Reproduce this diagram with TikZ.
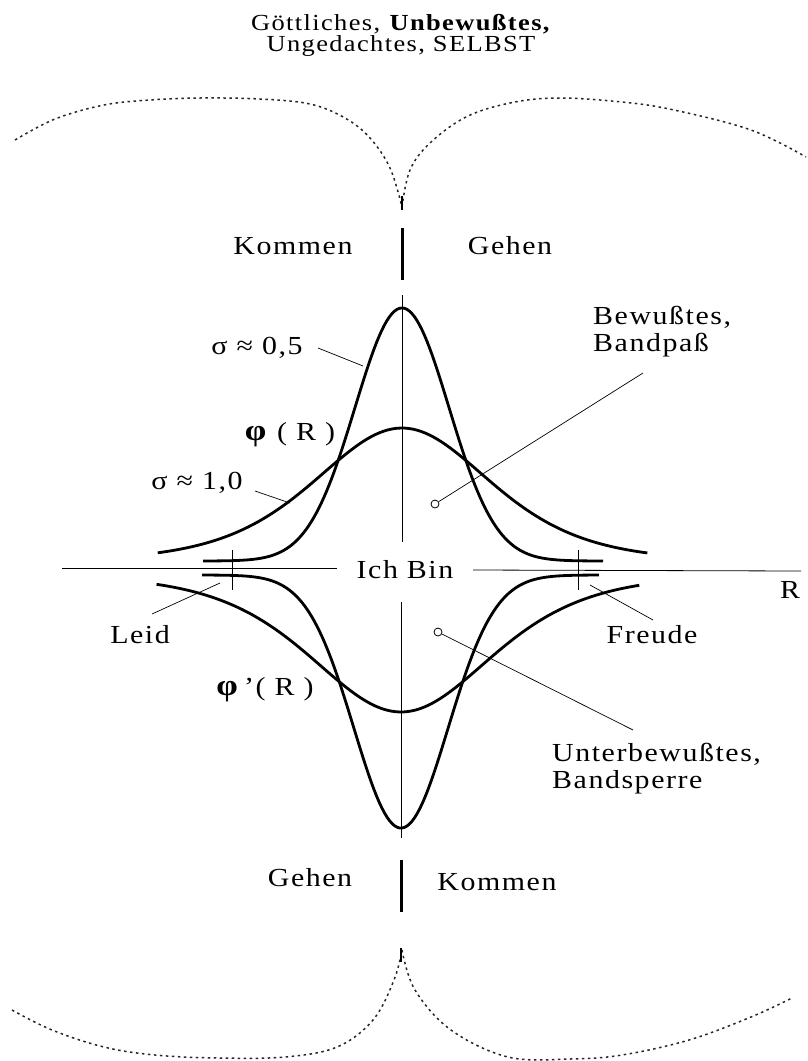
\documentclass[tikz,border=0pt]{standalone}
\usepackage{fontspec}
\setmainfont{Liberation Serif}[FakeStretch=1.15, LetterSpace=6]
\begin{document}
\begin{tikzpicture}[x=1pt,y=-1pt,
  lab/.style={inner sep=0pt, font=\fontsize{26}{23}\selectfont},
  twolab/.style={inner sep=0pt, anchor=west, align=left, font=\fontsize{26}{27}\selectfont},
  toplab/.style={inner sep=0pt, align=center, font=\fontsize{23}{21}\selectfont},
  curve/.style={line width=2.8pt, line join=round},
  thin/.style={line width=0.8pt},
  bar/.style={line width=3pt},
  leader/.style={line width=0.7pt},
  outerarc/.style={line width=1.5pt, dash pattern=on 2.5pt off 3.5pt, black!85},
  ring/.style={circle, draw, line width=0.8pt, inner sep=0pt, minimum size=8pt}]
\useasboundingbox (0,0) rectangle (808,1061);
% title
\node[toplab] (title) at (401,35) {Göttliches, \textbf{Unbewußtes,}\\Ungedachtes, SELBST};
% outer dashed arcs
\draw[outerarc] plot[smooth, tension=0.6] coordinates {(15,140) (55,119) (104,105) (150,100) (200,98) (260,99) (310,104) (345,118) (370,138) (390,168) (402,207)};
\draw[outerarc] plot[smooth, tension=0.6] coordinates {(402,207) (410,170) (430,143) (466,117) (510,103) (557,98) (622,102) (674,110) (751,130) (806,157)};
\draw[outerarc] plot[smooth, tension=0.6] coordinates {(12,1010) (52,1030) (104,1047) (155,1055) (218,1058) (285,1057) (337,1047) (373,1020) (394,980) (402,950)};
\draw[outerarc] plot[smooth, tension=0.6] coordinates {(402,950) (415,990) (451,1030) (508,1057) (570,1059) (622,1055) (689,1040) (751,1017) (792,998)};
\draw[line width=1.3pt] (402,196) -- (402,210);
\draw[line width=1.3pt] (401,948) -- (401,962);
% bars and labels
\coordinate (barTa) at (402,228); \coordinate (barTb) at (402,280);
\draw[bar] (barTa) -- (barTb);
\node[lab] (kommenT) at (293,246) {Kommen};
\node[lab] (gehenT) at (510,246) {Gehen};
\coordinate (barBa) at (401,860); \coordinate (barBb) at (401,912);
\draw[bar] (barBa) -- (barBb);
\node[lab] (gehenB) at (310,878) {Gehen};
\node[lab] (kommenB) at (497,882) {Kommen};
% axes
\node[lab] (ich) at (405,570) {Ich Bin};
\coordinate (axL) at (62,568); \coordinate (axLe) at (337,568);
\coordinate (axRs) at (473,570); \coordinate (axR) at (801,571);
\draw[thin] (axL) -- (axLe);
\draw[thin] (axRs) -- (axR);
\node[lab] (R) at (790,590) {R};
\coordinate (vUa) at (402,295); \coordinate (vUb) at (402,542);
\coordinate (vLa) at (401,602); \coordinate (vLb) at (401,838);
\draw[thin] (vUa) -- (vUb);
\draw[thin] (vLa) -- (vLb);
\coordinate (tkLa) at (232,550); \coordinate (tkLb) at (232,590);
\coordinate (tkRa) at (578,550); \coordinate (tkRb) at (578,590);
\draw[line width=1pt] (tkLa) -- (tkLb);
\draw[line width=1pt] (tkRa) -- (tkRb);
% curves
\draw[curve] plot[domain=-4.23:4.28, samples=160] ({402+47*\x}, {561-253*exp(-(\x*\x)/2)});
\draw[curve] plot[domain=-2.07:2.08, samples=120] ({402+118*\x}, {561-133/(cosh(\x)*cosh(\x))});
\draw[curve] plot[domain=-4.23:4.21, samples=160] ({401+47*\x}, {575+253*exp(-(\x*\x)/2)});
\draw[curve] plot[domain=-2.02:1.97, samples=120] ({401+121*\x}, {575+137/(cosh(\x)*cosh(\x))});
% curve labels
\node[lab] (s05) at (257,348) {σ ≈ 0,5};
\coordinate (s05a) at (318,348); \coordinate (s05b) at (363,366);
\draw[leader] (s05a) -- (s05b);
\node[lab] (s10) at (197,483) {σ ≈ 1,0};
\coordinate (s10a) at (255,491); \coordinate (s10b) at (290,503);
\draw[leader] (s10a) -- (s10b);
\node[lab] (phi) at (290,435) {{\fontsize{30}{30}\selectfont\textbf{φ}} ( R )};
\node[lab] (phid) at (265,690) {{\fontsize{30}{30}\selectfont\textbf{φ}}\,'( R )};
% Bewusstes
\node[twolab] (bew) at (593,332) {Bewußtes,\\Bandpaß};
\node[ring] (ringU) at (435,504) {};
\coordinate (bewL) at (643,373);
\draw[leader] (ringU) -- (bewL);
% Unterbewusstes
\node[twolab] (unt) at (552,769) {Unterbewußtes,\\Bandsperre};
\node[ring] (ringL) at (438,632) {};
\coordinate (untL) at (633,730);
\draw[leader] (ringL) -- (untL);
% Leid / Freude
\node[lab] (leid) at (140,635) {Leid};
\coordinate (leidA) at (152,614); \coordinate (leidB) at (220,583);
\draw[leader] (leidA) -- (leidB);
\node[lab] (freude) at (652,635) {Freude};
\coordinate (frA) at (590,585); \coordinate (frB) at (653,620);
\draw[leader] (frA) -- (frB);
\end{tikzpicture}
\end{document}
